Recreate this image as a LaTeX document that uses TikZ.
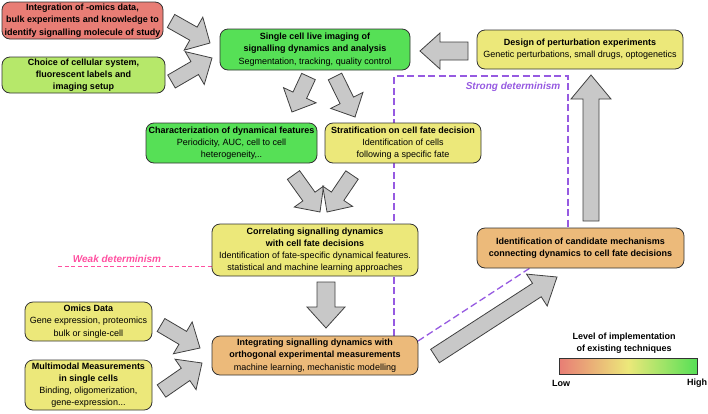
\documentclass[tikz,border=0pt]{standalone}
\usepackage{fontspec}
\setmainfont{Liberation Sans}
\usetikzlibrary{calc}
\definecolor{cred}{RGB}{232,125,117}
\definecolor{clime}{RGB}{182,232,106}
\definecolor{cgreen}{RGB}{86,224,86}
\definecolor{cyellow}{RGB}{236,232,122}
\definecolor{corange}{RGB}{236,186,122}
\definecolor{cgray}{RGB}{200,200,200}
\definecolor{cpurple}{RGB}{150,90,225}
\definecolor{cpink}{RGB}{255,80,160}
\tikzset{
  box/.style={draw=black!80, line width=0.8pt, rounded corners=8pt, align=center, inner sep=0pt,
    font=\fontsize{9}{12.2}\selectfont},
  fatarr/.style={draw=black!75, fill=cgray, line width=0.8pt, line join=miter},
  strongline/.style={draw=cpurple, line width=1.3pt, dash pattern=on 7pt off 3.5pt},
  weakline/.style={draw=cpink, line width=0.8pt, dash pattern=on 4pt off 2.5pt},
  lbl/.style={font=\fontsize{10}{12}\selectfont\bfseries\itshape, inner sep=0pt},
  legtext/.style={inner sep=0pt, align=center, font=\fontsize{9}{12}\selectfont\bfseries}
}
\newcommand\fatarrow[5]{%
  \coordinate (fa-c) at ($(#2)!#5!(#1)$);
  \draw[fatarr] ($(#1)!#3!90:(#2)$) -- ($(fa-c)!#3!-90:(#1)$) -- ($(fa-c)!#4!-90:(#1)$) -- (#2)
    -- ($(fa-c)!#4!90:(#1)$) -- ($(fa-c)!#3!90:(#1)$) -- ($(#1)!#3!-90:(#2)$) -- cycle;
}
\begin{document}
\begin{tikzpicture}[x=1pt,y=-1pt]
\useasboundingbox (0,0) rectangle (708,413);
% dashed lines (behind boxes)
\coordinate (s1) at (394,336);
\coordinate (s2) at (394,76);
\coordinate (s3) at (568,76);
\coordinate (s4) at (568,228);
\coordinate (d1) at (418,341);
\coordinate (d2) at (530,268);
\draw[strongline] (s1) -- (s2) -- (s3) -- (s4);
\draw[strongline] (d1) -- (d2);
\coordinate (w1) at (58,266);
\coordinate (w2) at (212,266);
\draw[weakline] (w1) -- (w2);
\node[lbl, text=cpink] (weak) at (117,259) {Weak determinism};
\node[lbl, text=cpurple] (strong) at (513,87) {Strong determinism};

% boxes
\node[box, fill=cred, minimum width=161pt, minimum height=37pt] (omicsint) at (82.5,20.5)
  {\textbf{Integration of -omics data,}\\\textbf{bulk experiments and knowledge to}\\\textbf{identify signalling molecule of study}};
\node[box, fill=clime, minimum width=163pt, minimum height=36pt] (choice) at (83.5,75)
  {\textbf{Choice of cellular system,}\\\textbf{fluorescent labels and}\\\textbf{imaging setup}};
\node[box, fill=cgreen, minimum width=190pt, minimum height=41pt] (main) at (315,49.5)
  {\textbf{Single cell live imaging of}\\\textbf{signalling dynamics and analysis}\\Segmentation, tracking, quality control};
\node[box, fill=cyellow, minimum width=206pt, minimum height=39pt] (design) at (580,49.5)
  {\textbf{Design of perturbation experiments}\\Genetic perturbations, small drugs, optogenetics};
\node[box, fill=cgreen, minimum width=171pt, minimum height=40pt] (charac) at (231.5,143)
  {\textbf{Characterization of dynamical features}\\Periodicity, AUC, cell to cell\\heterogeneity,..};
\node[box, fill=cyellow, minimum width=156pt, minimum height=40pt] (strat) at (403,143)
  {\textbf{Stratification on cell fate decision}\\Identification of cells\\following a specific fate};
\node[box, fill=cyellow, minimum width=206pt, minimum height=52pt] (correl) at (315,250)
  {\textbf{Correlating signalling dynamics}\\\textbf{with cell fate decisions}\\Identification of fate-specific dynamical features.\\statistical and machine learning approaches};
\node[box, fill=corange, minimum width=207pt, minimum height=40pt] (cand) at (580.5,248)
  {\textbf{Identification of candidate mechanisms}\\\textbf{connecting dynamics to cell fate decisions}};
\node[box, fill=cyellow, minimum width=127pt, minimum height=39pt] (omics) at (88.5,321.5)
  {\textbf{Omics Data}\\Gene expression, proteomics\\bulk or single-cell};
\node[box, fill=cyellow, minimum width=127pt, minimum height=50pt] (multi) at (88.5,385)
  {\textbf{Multimodal Measurements}\\\textbf{in single cells}\\Binding, oligomerization,\\gene-expression...};
\node[box, fill=corange, minimum width=206pt, minimum height=39pt] (integ) at (315,355.5)
  {\textbf{Integrating signalling dynamics with}\\\textbf{orthogonal experimental measurements}\\machine learning, mechanistic modelling};

% fat arrows
\coordinate (a1t) at (171,21);    \coordinate (a1h) at (210,43);
\coordinate (a2t) at (171.5,81.5);\coordinate (a2h) at (212,58);
\coordinate (a3t) at (308.5,76.5);\coordinate (a3h) at (292,112);
\coordinate (a4t) at (335,76.5);  \coordinate (a4h) at (355,117);
\coordinate (a5t) at (293.5,175); \coordinate (a5h) at (320,212);
\coordinate (a6t) at (352,175);   \coordinate (a6h) at (327,212);
\coordinate (a7t) at (326,282);   \coordinate (a7h) at (326,328);
\coordinate (a8t) at (161,325);   \coordinate (a8h) at (200,348);
\coordinate (a9t) at (161.5,391); \coordinate (a9h) at (202,363);
\coordinate (a10t) at (435,356);  \coordinate (a10h) at (557,277);
\coordinate (a11t) at (591,221);  \coordinate (a11h) at (591,75);
\coordinate (a12t) at (468,51);   \coordinate (a12h) at (420,51);
\fatarrow{a1t}{a1h}{7.5pt}{19pt}{19pt}
\fatarrow{a2t}{a2h}{7.5pt}{19pt}{20pt}
\fatarrow{a3t}{a3h}{7.5pt}{18pt}{18.5pt}
\fatarrow{a4t}{a4h}{7.5pt}{18pt}{18.5pt}
\fatarrow{a5t}{a5h}{7.5pt}{18pt}{19pt}
\fatarrow{a6t}{a6h}{7.5pt}{18pt}{19pt}
\fatarrow{a7t}{a7h}{9pt}{19pt}{21pt}
\fatarrow{a8t}{a8h}{7.5pt}{18.5pt}{20pt}
\fatarrow{a9t}{a9h}{7.5pt}{18.5pt}{20pt}
\fatarrow{a10t}{a10h}{8pt}{19pt}{24pt}
\fatarrow{a11t}{a11h}{8pt}{20pt}{24pt}
\fatarrow{a12t}{a12h}{9pt}{18pt}{20pt}

% legend
\node[legtext] (legtitle) at (624,343) {Level of implementation\\of existing techniques};
\shade[left color=cred, right color=cgreen, middle color=cyellow] (559,358) rectangle (697,374);
\draw[black!80, line width=0.8pt] (559,358) rectangle (697,374);
\node[legtext] (low) at (561,383) {Low};
\node[legtext] (high) at (697,383) {High};
\end{tikzpicture}
\end{document}
